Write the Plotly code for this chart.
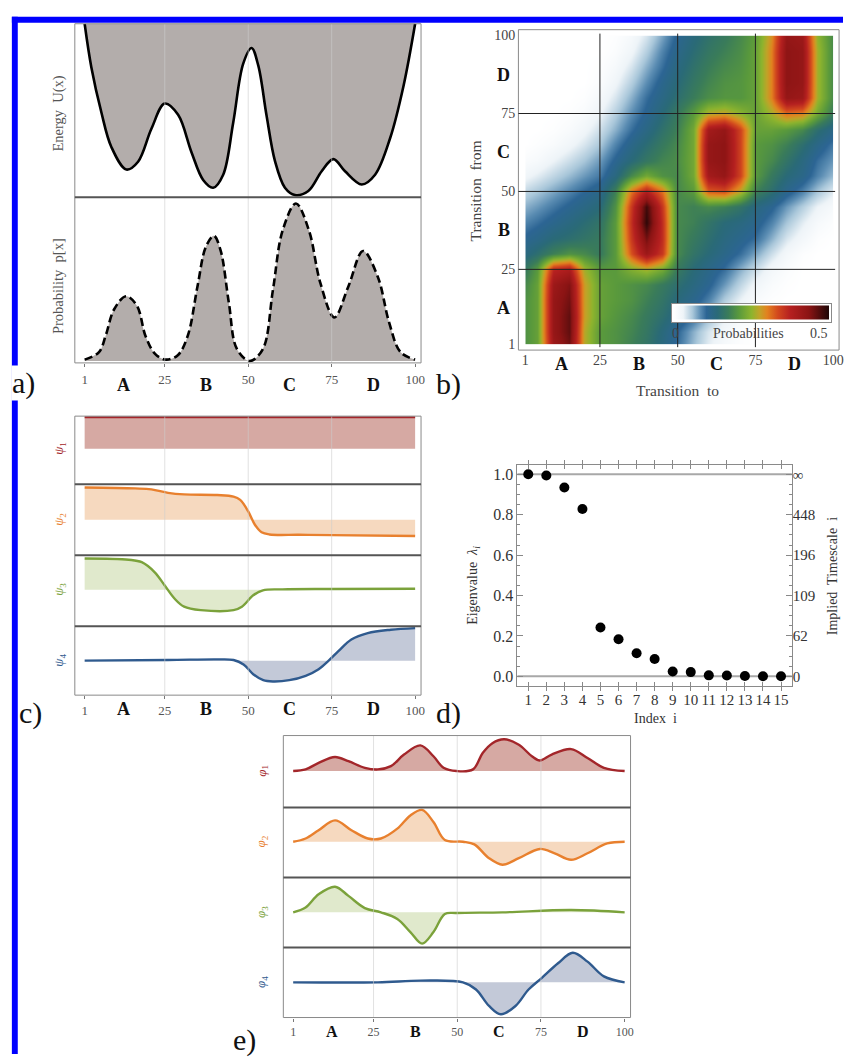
import plotly.graph_objects as go

W, H = 853, 1062
def fx(p):
    return p / W
def fy(p):
    return 1 - p / H

SERIF = "Liberation Serif"
GRAY_FILL = "#b3adab"

# ---------------- Panel a: energy and probability ----------------
energy_x = [1, 3, 6, 9, 13.5, 17, 21, 25, 29, 33, 36.5, 39.5, 42.5, 45.5, 48.5, 51, 53,
            55.5, 58, 61, 64, 68, 72, 75.5, 79, 84, 88, 92.5, 96.5, 100]
energy_u = [10.0, 7.5, 4.9, 2.9, 1.6, 2.05, 3.95, 5.4, 4.75, 2.6, 1.0, 0.55, 1.3, 4.3, 7.7, 8.6, 7.6,
            4.7, 2.1, 0.55, 0.13, 0.36, 1.5, 2.2, 1.5, 0.74, 1.3, 3.4, 6.4, 10.0]

prob_x = [1, 5.3, 7.3, 9.8, 13.4, 16.7, 19.2, 22.1, 25.3, 28.9, 31.9, 34.8, 37.3, 39.7, 41.7, 44.2,
          46.6, 50.5, 54.4, 57.4, 60.3, 64.3, 68.2, 71.6, 75.8, 80.0, 84.4, 88.8, 92.2, 95.6, 100]
prob_p = [0.0003, 0.002, 0.0057, 0.0116, 0.0146, 0.0124, 0.0057, 0.0016, 0.0003, 0.0013, 0.0057,
          0.0168, 0.0257, 0.0282, 0.025, 0.0131, 0.0027, 0.0, 0.0027, 0.016, 0.0294, 0.0355, 0.0294,
          0.0176, 0.0098, 0.0168, 0.0248, 0.019, 0.0087, 0.002, 0.0003]

state_ticks = [1, 25, 50, 75, 100]
state_letters = ["A", "B", "C", "D"]
state_letter_pos = [12.5, 37.5, 62.5, 87.5]

# ---------------- Panel b: transition matrix ----------------
hm_to = [1, 5, 10, 15, 20, 25, 30, 35, 40, 45, 50, 55, 60, 65, 70, 75, 80, 85, 90, 95, 100]
hm_from = [1, 5, 10, 15, 20, 25, 30, 35, 40, 45, 50, 55, 60, 65, 70, 75, 80, 85, 90, 95, 100]
hm_z = [
    [0.20, 0.22, 0.41, 0.45, 0.27, 0.21, 0.20, 0.18, 0.16, 0.13, 0.10, 0.065, 0.035, 0.015, 0.005, 0, 0, 0, 0, 0, 0],
    [0.20, 0.22, 0.42, 0.46, 0.27, 0.21, 0.20, 0.185, 0.165, 0.135, 0.105, 0.07, 0.04, 0.02, 0.005, 0, 0, 0, 0, 0, 0],
    [0.20, 0.22, 0.42, 0.46, 0.28, 0.22, 0.205, 0.19, 0.17, 0.15, 0.125, 0.10, 0.065, 0.035, 0.015, 0.005, 0, 0, 0, 0, 0],
    [0.20, 0.22, 0.42, 0.45, 0.28, 0.22, 0.21, 0.20, 0.18, 0.16, 0.135, 0.115, 0.09, 0.055, 0.03, 0.01, 0.003, 0, 0, 0, 0],
    [0.19, 0.22, 0.41, 0.44, 0.28, 0.22, 0.21, 0.20, 0.19, 0.17, 0.15, 0.13, 0.11, 0.08, 0.05, 0.025, 0.01, 0.003, 0, 0, 0],
    [0.17, 0.21, 0.37, 0.39, 0.26, 0.21, 0.21, 0.24, 0.26, 0.23, 0.17, 0.14, 0.12, 0.10, 0.07, 0.045, 0.02, 0.008, 0, 0, 0],
    [0.13, 0.15, 0.18, 0.20, 0.19, 0.17, 0.21, 0.33, 0.41, 0.35, 0.19, 0.16, 0.14, 0.12, 0.10, 0.075, 0.045, 0.02, 0.005, 0, 0],
    [0.11, 0.12, 0.14, 0.15, 0.16, 0.17, 0.21, 0.35, 0.45, 0.36, 0.19, 0.17, 0.15, 0.13, 0.115, 0.10, 0.07, 0.04, 0.02, 0.005, 0],
    [0.09, 0.10, 0.115, 0.13, 0.145, 0.16, 0.21, 0.36, 0.49, 0.36, 0.19, 0.18, 0.16, 0.14, 0.13, 0.115, 0.09, 0.06, 0.035, 0.015, 0.005],
    [0.07, 0.08, 0.095, 0.11, 0.125, 0.14, 0.20, 0.35, 0.48, 0.35, 0.19, 0.18, 0.19, 0.18, 0.16, 0.13, 0.11, 0.08, 0.055, 0.03, 0.015],
    [0.05, 0.06, 0.075, 0.09, 0.105, 0.12, 0.18, 0.31, 0.38, 0.31, 0.19, 0.21, 0.32, 0.33, 0.27, 0.18, 0.15, 0.115, 0.09, 0.06, 0.035],
    [0.025, 0.035, 0.05, 0.065, 0.08, 0.095, 0.13, 0.19, 0.23, 0.20, 0.19, 0.23, 0.40, 0.42, 0.34, 0.21, 0.17, 0.14, 0.12, 0.09, 0.065],
    [0.01, 0.015, 0.03, 0.045, 0.06, 0.08, 0.11, 0.14, 0.165, 0.185, 0.195, 0.23, 0.42, 0.43, 0.34, 0.21, 0.19, 0.16, 0.13, 0.10, 0.08],
    [0, 0.005, 0.012, 0.025, 0.04, 0.06, 0.09, 0.12, 0.145, 0.17, 0.19, 0.23, 0.42, 0.43, 0.34, 0.21, 0.20, 0.18, 0.15, 0.12, 0.095],
    [0, 0, 0.004, 0.012, 0.025, 0.045, 0.07, 0.10, 0.125, 0.155, 0.18, 0.23, 0.40, 0.42, 0.34, 0.22, 0.22, 0.21, 0.19, 0.15, 0.12],
    [0, 0, 0, 0.004, 0.012, 0.03, 0.055, 0.085, 0.11, 0.14, 0.17, 0.21, 0.27, 0.28, 0.25, 0.22, 0.26, 0.31, 0.30, 0.23, 0.17],
    [0, 0, 0, 0, 0.004, 0.018, 0.04, 0.07, 0.10, 0.125, 0.15, 0.175, 0.195, 0.205, 0.205, 0.22, 0.30, 0.42, 0.41, 0.26, 0.19],
    [0, 0, 0, 0, 0, 0.008, 0.027, 0.055, 0.085, 0.115, 0.14, 0.165, 0.185, 0.20, 0.205, 0.22, 0.30, 0.43, 0.42, 0.26, 0.19],
    [0, 0, 0, 0, 0, 0.004, 0.016, 0.04, 0.07, 0.10, 0.13, 0.155, 0.175, 0.19, 0.20, 0.22, 0.30, 0.43, 0.42, 0.26, 0.19],
    [0, 0, 0, 0, 0, 0, 0.008, 0.026, 0.055, 0.09, 0.12, 0.145, 0.165, 0.18, 0.195, 0.22, 0.30, 0.43, 0.42, 0.26, 0.19],
    [0, 0, 0, 0, 0, 0, 0.004, 0.016, 0.04, 0.075, 0.11, 0.135, 0.155, 0.17, 0.19, 0.215, 0.29, 0.42, 0.41, 0.25, 0.19],
]
hm_colorscale = [
    [0.00, "#ffffff"], [0.06, "#eef4f8"], [0.12, "#a9c7da"], [0.17, "#5b8db3"],
    [0.21, "#2c6594"], [0.28, "#2a6a78"], [0.35, "#3a7c5a"], [0.42, "#5a9a3c"],
    [0.50, "#8db42e"], [0.55, "#c0a428"], [0.60, "#e2821f"], [0.67, "#d2481e"],
    [0.75, "#b52020"], [0.87, "#8b1414"], [1.00, "#1e0606"],
]

# ---------------- Panel c: right eigenvectors psi ----------------
psi1_x = [1, 100]
psi1_y = [1.0, 1.0]
psi2_x = [1, 16.1, 21.0, 26.0, 30.8, 40.7, 45.6, 47.6, 50.0, 52.0, 54.0, 56.4, 65.2, 75.0, 100]
psi2_y = [1.02, 0.99, 0.96, 0.85, 0.80, 0.78, 0.73, 0.625, 0.26, -0.16, -0.40, -0.47, -0.48, -0.49, -0.52]
psi3_x = [1, 14.2, 18.1, 22.0, 25.0, 27.9, 30.8, 35.8, 45.6, 48.1, 51.5, 54.4, 60.3, 75, 100]
psi3_y = [0.99, 0.95, 0.87, 0.55, 0.13, -0.28, -0.54, -0.65, -0.65, -0.54, -0.18, -0.02, 0.01, 0.02, 0.03]
psi4_x = [1, 26, 40.7, 45.6, 48.6, 51.5, 54.5, 57.4, 62.3, 67.2, 71.1, 74.1, 77.0, 80.9, 85.8, 92.7, 100]
psi4_y = [0.0, 0.02, 0.04, 0.02, -0.12, -0.43, -0.62, -0.66, -0.62, -0.48, -0.27, 0.0, 0.30, 0.67, 0.875, 0.98, 1.03]

# ---------------- Panel d: eigenvalues ----------------
eig_index = list(range(1, 16))
eig_values = [1.0, 0.994, 0.935, 0.828, 0.242, 0.184, 0.114, 0.086, 0.024, 0.021, 0.005, 0.004, 0.002, 0.001, 0.001]
eig_ticks = [0.0, 0.2, 0.4, 0.6, 0.8, 1.0]
timescale_labels = ["0", "62", "109", "196", "448", "\u221e"]

# ---------------- Panel e: left eigenvectors phi ----------------
phi1_x = [1, 4.7, 8.6, 13.5, 17.5, 22.4, 26.3, 30.2, 34.1, 39.0, 42.9, 45.9, 49.8, 54.7, 57.6, 60.5,
          64.0, 68.4, 72.3, 74.7, 78.2, 84.0, 88.9, 93.8, 100]
phi1_y = [0, 1.7, 8.3, 14.3, 10, 3.3, 1.7, 5, 16.7, 26, 15, 3.3, 0, 1.7, 18.3, 28.3,
          32.3, 26.7, 15, 10.7, 16.7, 22.3, 13.3, 3.3, 0]
phi2_x = [1, 4.7, 8.6, 13.5, 18.4, 23.3, 27.2, 32.1, 36.0, 39.5, 42.9, 46.3, 51.7, 55.1, 59.5, 63.5,
          68.4, 74.7, 79.1, 84.0, 88.9, 94.8, 100]
phi2_y = [0, 3.3, 11.7, 21.7, 11.7, 3.3, 3.3, 13.3, 26.7, 32.3, 20, 1.7, 0, -2.7, -16.7, -23.3,
          -16.7, -7.3, -11.7, -18.3, -11.7, -1.7, 0]
phi3_x = [1, 4.7, 8.6, 13.5, 17.5, 22.4, 27.2, 32.1, 36.0, 39.5, 42.9, 46.3, 49.8, 63.5, 84, 100]
phi3_y = [0, 5, 18.3, 26, 16.7, 4.3, 0, -6.7, -20, -31.7, -20, -1.7, -0.7, 0, 2.3, 0]
phi4_x = [1, 26.3, 39.0, 51.7, 55.6, 59.5, 63.0, 67.4, 71.3, 75.2, 80.1, 84.5, 88.9, 93.8, 100]
phi4_y = [0, 0, 1.7, 0, -7.3, -24, -32.4, -24, -7.3, 4.3, 19.3, 30, 21, 6, 0]

PSI_COLORS = ["#a3262a", "#e8802e", "#7ba23b", "#2f5a8e"]
PSI_FILLS = ["#d6a9a3", "#f6d9bf", "#e0e9cc", "#c3c9d8"]

fig = go.Figure()

# Panel a traces
fig.add_trace(go.Scatter(x=[1, 100], y=[12, 12], mode="lines",
                         line=dict(width=0, color="rgba(0,0,0,0)"),
                         xaxis="x", yaxis="y", hoverinfo="skip"))
fig.add_trace(go.Scatter(x=energy_x, y=energy_u, mode="lines",
                         line=dict(color="black", width=2.6, shape="spline", smoothing=1.0),
                         fill="tonexty", fillcolor=GRAY_FILL, xaxis="x", yaxis="y"))
fig.add_trace(go.Scatter(x=prob_x, y=prob_p, mode="lines",
                         line=dict(color="black", width=2.6, dash="8px,4px", shape="spline", smoothing=1.0),
                         fill="tozeroy", fillcolor=GRAY_FILL, xaxis="x", yaxis="y2"))

# Panel b heatmap
fig.add_trace(go.Heatmap(
    x=hm_to, y=hm_from, z=hm_z, zmin=0, zmax=0.5, zsmooth="best",
    colorscale=hm_colorscale, xaxis="x2", yaxis="y3",
    colorbar=dict(orientation="h", x=fx(759.5), xanchor="center", y=fy(310), yanchor="middle",
                  len=159, lenmode="pixels", thickness=14, thicknessmode="pixels",
                  outlinewidth=0, borderwidth=1, bordercolor="#8a8a8a", bgcolor="white",
                  xpad=2, ypad=2, showticklabels=False, ticks=""),
))

# Panel c traces
psi_sets = [(psi1_x, psi1_y, "y4"), (psi2_x, psi2_y, "y5"), (psi3_x, psi3_y, "y6"), (psi4_x, psi4_y, "y7")]
for k, (xs, ys, ya) in enumerate(psi_sets):
    fig.add_trace(go.Scatter(x=xs, y=ys, mode="lines",
                             line=dict(color=PSI_COLORS[k], width=2.4, shape="spline", smoothing=1.0),
                             fill="tozeroy", fillcolor=PSI_FILLS[k], xaxis="x3", yaxis=ya))

# Panel d
fig.add_trace(go.Scatter(x=eig_index, y=eig_values, mode="markers",
                         marker=dict(color="black", size=10), xaxis="x4", yaxis="y8"))
# same points on the right-hand (implied timescale) axis, invisible, so that axis is drawn
fig.add_trace(go.Scatter(x=eig_index, y=eig_values, mode="markers",
                         marker=dict(color="rgba(0,0,0,0)", size=1), xaxis="x4", yaxis="y9",
                         hoverinfo="skip"))

# Panel e traces
phi_sets = [(phi1_x, phi1_y, "y10"), (phi2_x, phi2_y, "y11"), (phi3_x, phi3_y, "y12"), (phi4_x, phi4_y, "y13")]
for k, (xs, ys, ya) in enumerate(phi_sets):
    fig.add_trace(go.Scatter(x=xs, y=ys, mode="lines",
                             line=dict(color=PSI_COLORS[k], width=2.4, shape="spline", smoothing=1.0),
                             fill="tozeroy", fillcolor=PSI_FILLS[k], xaxis="x5", yaxis=ya))

hidden_y = dict(visible=False, fixedrange=True)
tick_font = dict(family=SERIF, size=13, color="#555")

def state_xaxis(d0, d1, r0, r1, anchor, standoff):
    return dict(domain=[fx(d0), fx(d1)], range=[r0, r1], anchor=anchor,
                tickvals=state_ticks, ticktext=[str(v) for v in state_ticks],
                ticks="outside", ticklen=3, tickcolor="#777", tickfont=tick_font,
                ticklabelstandoff=standoff,
                showgrid=False, zeroline=False, showline=False)

layout_axes = dict(
    xaxis=state_xaxis(72, 424, -1.946, 101.77, "y2", 1),
    yaxis=dict(domain=[fy(193), fy(17)], range=[0, 10], anchor="x", **hidden_y),
    yaxis2=dict(domain=[fy(361), fy(193)], range=[-0.00044, 0.0369], anchor="x", **hidden_y),
    xaxis2=dict(domain=[fx(530), fx(843)], range=[1, 100], anchor="y3",
                tickvals=state_ticks, ticktext=[str(v) for v in state_ticks],
                ticks="", tickfont=dict(family=SERIF, size=14, color="#444"),
                ticklabelstandoff=6, showgrid=False, zeroline=False, showline=False),
    yaxis3=dict(domain=[fy(342), fy(29)], range=[1, 100], anchor="x2",
                tickvals=state_ticks, ticktext=[str(v) for v in state_ticks],
                ticks="", tickfont=dict(family=SERIF, size=14, color="#444"),
                ticklabelstandoff=9, showgrid=False, zeroline=False, showline=False),
    xaxis3=state_xaxis(72, 424, -1.946, 101.77, "y7", 0),
    yaxis4=dict(domain=[fy(484), fy(415)], range=[-1.125, 1.031], anchor="x3", **hidden_y),
    yaxis5=dict(domain=[fy(556), fy(484)], range=[-1.125, 1.125], anchor="x3", **hidden_y),
    yaxis6=dict(domain=[fy(628), fy(556)], range=[-1.156, 1.094], anchor="x3", **hidden_y),
    yaxis7=dict(domain=[fy(698), fy(628)], range=[-1.094, 1.094], anchor="x3", **hidden_y),
    xaxis4=dict(domain=[fx(522), fx(801)], range=[0.4, 15.6], anchor="y8",
                tickvals=eig_index, ticks="inside", ticklen=4, tickcolor="#888",
                showline=True, linecolor="#8a8a8a", linewidth=1, mirror="allticks",
                tickfont=dict(family=SERIF, size=15, color="#333"),
                showgrid=False, zeroline=False),
    yaxis8=dict(domain=[fy(689), fy(465)], range=[-0.049, 1.044], anchor="x4",
                tickvals=eig_ticks, ticktext=["0.0", "0.2", "0.4", "0.6", "0.8", "1.0"],
                ticks="inside", ticklen=6, tickcolor="#888",
                minor=dict(ticks="inside", ticklen=3, dtick=0.05, tickcolor="#888"),
                showline=True, linecolor="#8a8a8a", linewidth=1, mirror="allticks",
                tickfont=dict(family=SERIF, size=16, color="#333"),
                showgrid=False, zeroline=False),
    yaxis9=dict(overlaying="y8", side="right", anchor="x4", range=[-0.049, 1.044],
                tickvals=eig_ticks, ticktext=timescale_labels, ticks="",
                tickfont=dict(family=SERIF, size=15, color="#333"),
                showgrid=False, zeroline=False, showline=False),
    xaxis5=dict(domain=[fx(284), fx(637)], range=[-1.94, 101.76], anchor="y13",
                tickvals=state_ticks, ticktext=[str(v) for v in state_ticks],
                ticks="outside", ticklen=3, tickcolor="#777",
                tickfont=dict(family=SERIF, size=12, color="#555"),
                showgrid=False, zeroline=False, showline=False),
    yaxis10=dict(domain=[fy(812), fy(739)], range=[-37, 36], anchor="x5", **hidden_y),
    yaxis11=dict(domain=[fy(883), fy(812)], range=[-36.3, 34.7], anchor="x5", **hidden_y),
    yaxis12=dict(domain=[fy(954), fy(883)], range=[-35.7, 35.3], anchor="x5", **hidden_y),
    yaxis13=dict(domain=[fy(1025), fy(954)], range=[-35.7, 35.3], anchor="x5", **hidden_y),
)

shapes = []
def prect(x0, y0, x1, y1, color="#8a8a8a", width=1, fill=None, layer="above"):
    d = dict(type="rect", xref="paper", yref="paper", x0=fx(x0), x1=fx(x1), y0=fy(y1), y1=fy(y0),
             line=dict(color=color, width=width), layer=layer)
    if fill:
        d["fillcolor"] = fill
        d["line"] = dict(width=0)
    return d
def hline(x0, x1, y, color="#555", width=2):
    return dict(type="line", xref="paper", yref="paper", x0=fx(x0), x1=fx(x1), y0=fy(y), y1=fy(y),
                line=dict(color=color, width=width), layer="above")
def vgrid(xref, xv, y0, y1, color="rgba(205,205,205,0.6)", width=1):
    return dict(type="line", xref=xref, yref="paper", x0=xv, x1=xv, y0=fy(y1), y1=fy(y0),
                line=dict(color=color, width=width), layer="above")

# blue page border
shapes.append(prect(8, 10, 853, 16, fill="#0000ff"))
shapes.append(prect(8, 10, 14, 1062, fill="#0000ff"))

# panel a frame
for v in [25, 50, 75]:
    shapes.append(vgrid("x", v, 17, 361))
shapes.append(prect(72, 17, 424, 361))
shapes.append(hline(72, 424, 193))

# panel b frame and grid
shapes.append(prect(523, 23, 849, 348))
for v in [25, 50, 75]:
    shapes.append(dict(type="line", xref="x2", yref="paper", x0=v, x1=v, y0=fy(345), y1=fy(27),
                       line=dict(color="#222", width=1), layer="above"))
    shapes.append(dict(type="line", xref="paper", yref="y3", x0=fx(523), x1=fx(845), y0=v, y1=v,
                       line=dict(color="#222", width=1), layer="above"))

# panel c frame
for v in [25, 50, 75]:
    shapes.append(vgrid("x3", v, 415, 698))
shapes.append(prect(72, 415, 424, 698))
for yy in [484, 556, 628]:
    shapes.append(hline(72, 424, yy))

# panel d reference lines
for v in [0.0, 1.0]:
    shapes.append(dict(type="line", xref="paper", yref="y8", x0=fx(522), x1=fx(801), y0=v, y1=v,
                       line=dict(color="#a8a8a8", width=2), layer="below"))

# panel e frame
for v in [25, 50, 75]:
    shapes.append(vgrid("x5", v, 739, 1025))
shapes.append(prect(284, 739, 637, 1025))
for yy in [812, 883, 954]:
    shapes.append(hline(284, 637, yy))

ann = []
def text_px(x, y, t, size=14, color="#444", angle=0, bold=False, bg=None, xref="paper", yref="paper",
            xshift=0):
    d = dict(x=fx(x) if xref == "paper" else x, y=fy(y) if yref == "paper" else y,
             xref=xref, yref=yref, text=("<b>%s</b>" % t) if bold else t,
             showarrow=False, textangle=angle, xanchor="center", yanchor="middle",
             xshift=xshift, font=dict(family=SERIF, size=size, color=color))
    if bg:
        d["bgcolor"] = bg
        d["borderpad"] = 0
    return d

# panel a annotations
ann.append(text_px(55, 108, "Energy  U(x)", size=14.5, color="#555", angle=-90))
ann.append(text_px(55, 283, "Probability  p[x]", size=14.5, color="#555", angle=-90))
for lab, pos in zip(state_letters, state_letter_pos):
    ann.append(text_px(pos, 383, lab, size=18, color="#111", bold=True, xref="x"))
ann.append(text_px(20, 381, "a)", size=30, color="#111", bg="white"))

# panel b annotations
for lab, pos in zip(state_letters, state_letter_pos):
    ann.append(text_px(pos, 362, lab, size=18, color="#111", bold=True, xref="x2"))
    ann.append(text_px(508, pos, lab, size=18, color="#111", bold=True, yref="y3"))
ann.append(text_px(685, 389, "Transition  to", size=15.5, color="#444"))
ann.append(text_px(479, 187, "Transition  from", size=15.5, color="#444", angle=-90))
ann.append(text_px(683, 331, "0", size=14, color="#444"))
ann.append(text_px(757, 331, "Probabilities", size=14, color="#444"))
ann.append(text_px(829, 331, "0.5", size=14, color="#444"))
ann.append(text_px(452, 382, "b)", size=30, color="#111"))

# panel c annotations
psi_base = [448, 520, 591, 663]
for k, yb in enumerate(psi_base):
    ann.append(text_px(57, yb, "<i>\u03c8</i><sub>%d</sub>" % (k + 1), size=13, color=PSI_COLORS[k], angle=-90))
for lab, pos in zip(state_letters, state_letter_pos):
    ann.append(text_px(pos, 712, lab, size=18, color="#111", bold=True, xref="x3"))
ann.append(text_px(27, 716, "c)", size=30, color="#111", bg="white"))

# panel d annotations
ann.append(text_px(478, 587, "Eigenvalue  <i>\u03bb<sub>i</sub></i>", size=14, color="#333", angle=-90))
ann.append(text_px(833, 577, "Implied  Timescale  i", size=14, color="#333", angle=-90, xshift=10))
ann.append(text_px(662, 722, "Index  i", size=14, color="#333"))
ann.append(text_px(452, 716, "d)", size=30, color="#111"))

# panel e annotations
phi_base = [775, 846.7, 918.3, 989.3]
for k, yb in enumerate(phi_base):
    ann.append(text_px(262, yb, "<i>\u03c6</i><sub>%d</sub>" % (k + 1), size=13, color=PSI_COLORS[k], angle=-90))
for lab, pos in zip(state_letters, state_letter_pos):
    ann.append(text_px(pos, 1039, lab, size=16, color="#111", bold=True, xref="x5"))
ann.append(text_px(245, 1048, "e)", size=30, color="#111"))

fig.update_layout(
    width=W, height=H, margin=dict(l=0, r=0, t=0, b=0, pad=0),
    paper_bgcolor="white", plot_bgcolor="rgba(0,0,0,0)",
    showlegend=False, shapes=shapes, annotations=ann,
    font=dict(family=SERIF), **layout_axes,
)

fig.write_html("out.html")
